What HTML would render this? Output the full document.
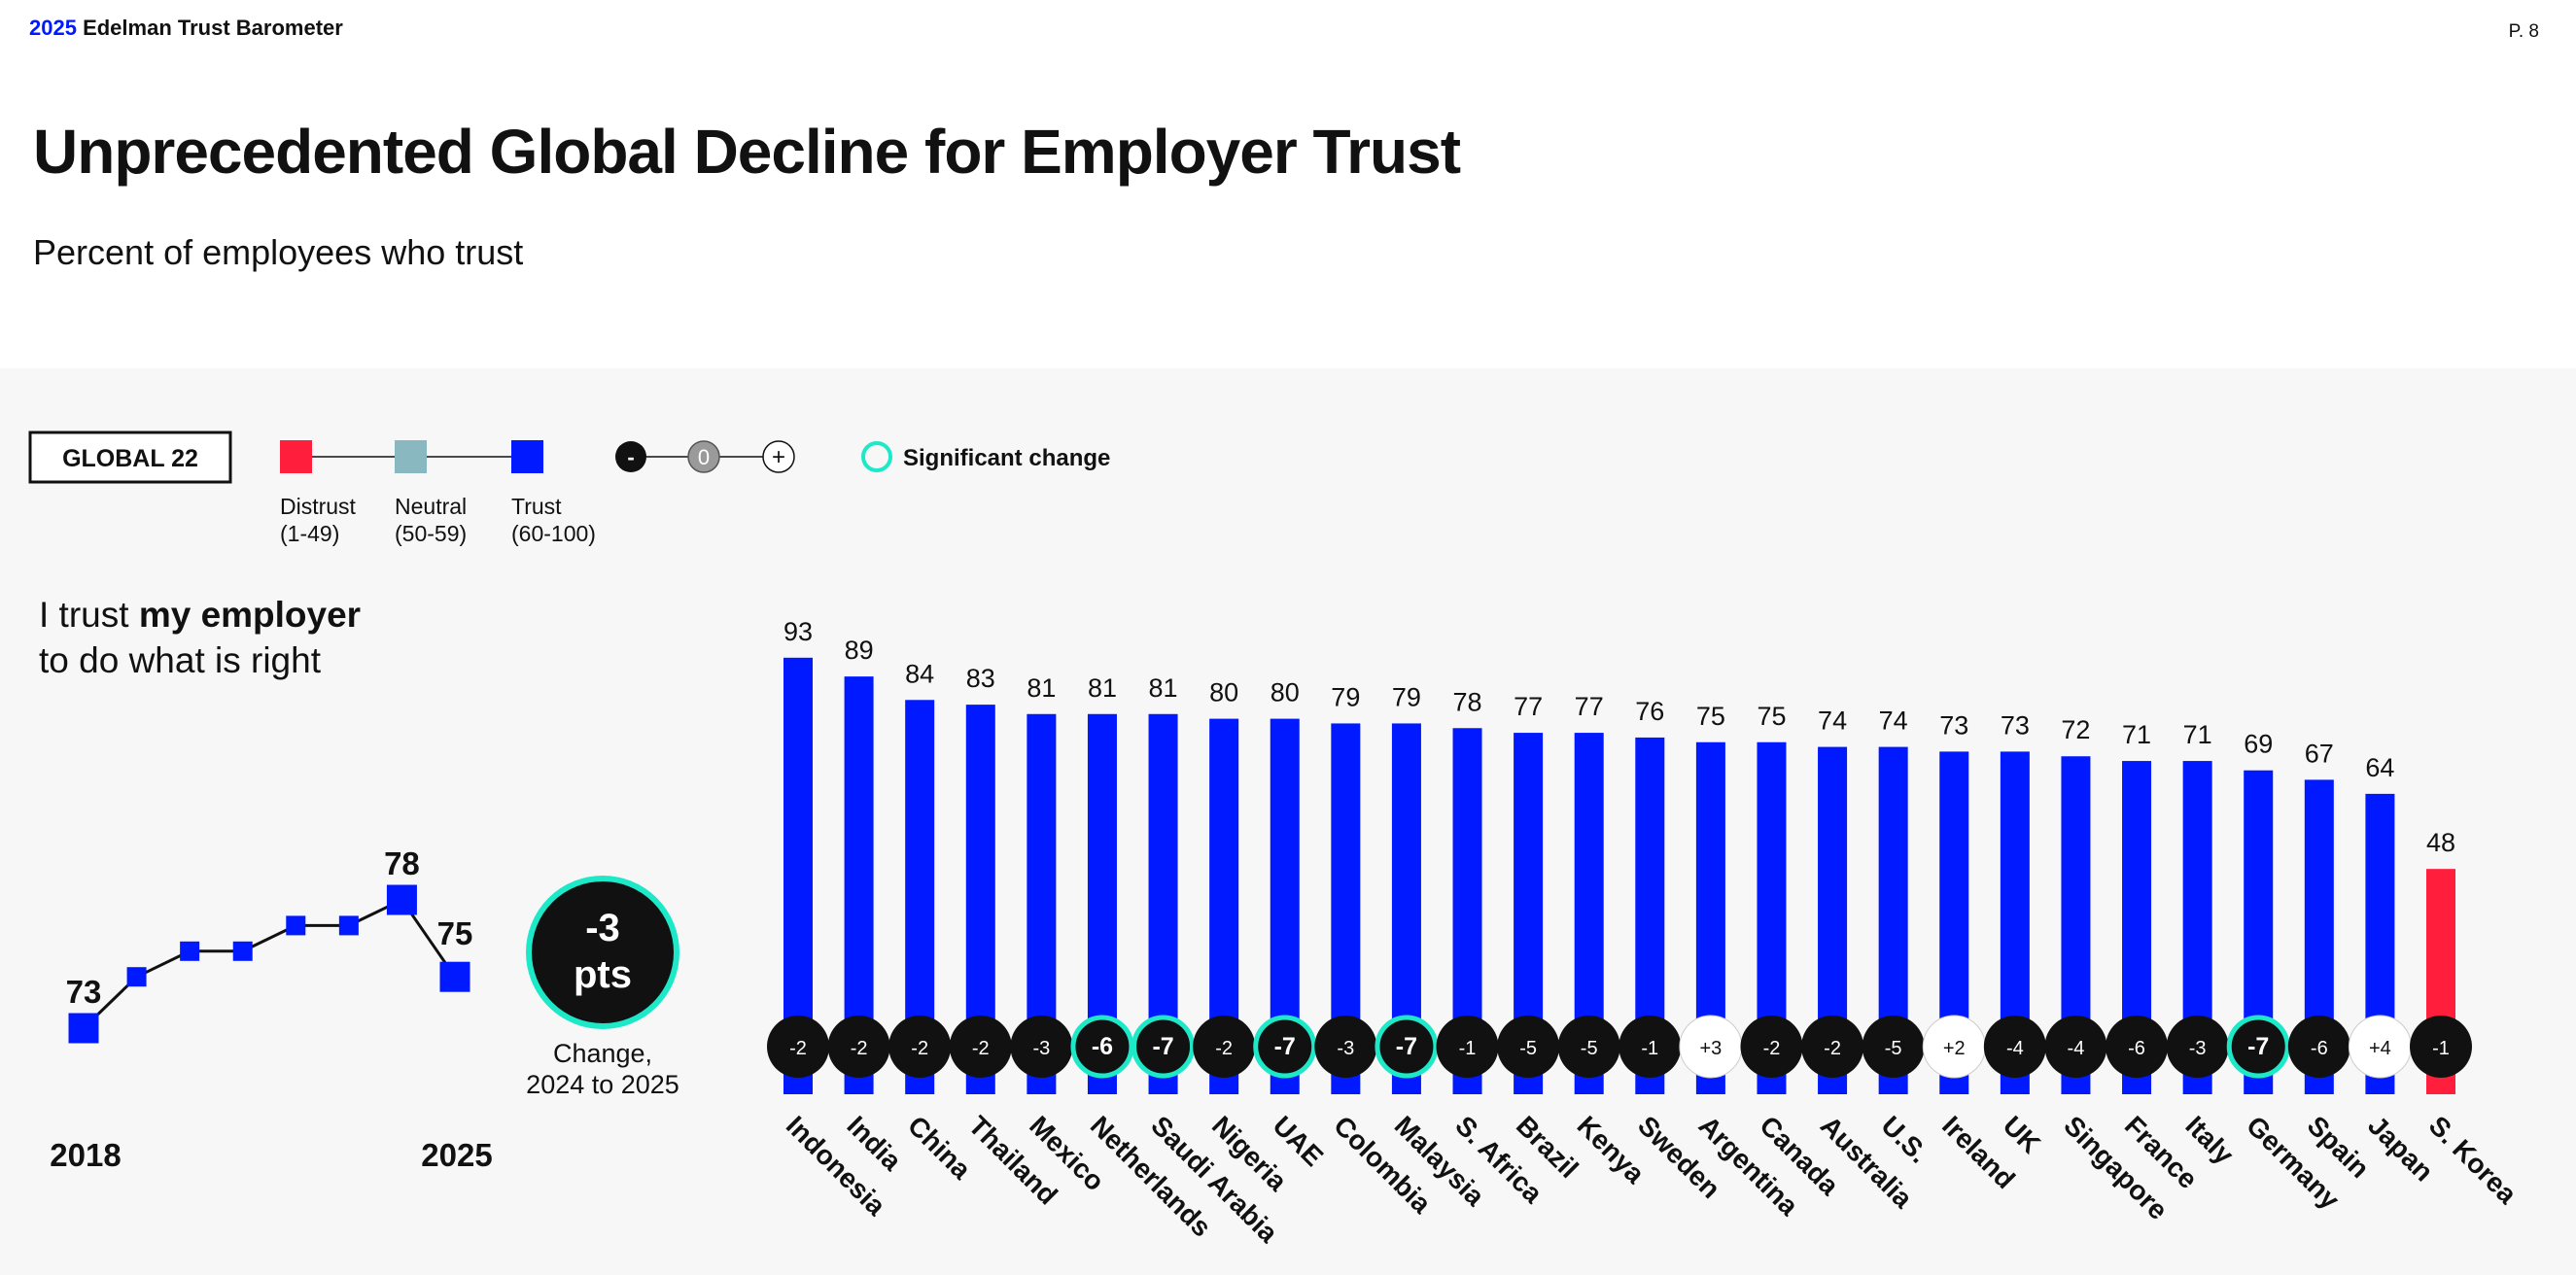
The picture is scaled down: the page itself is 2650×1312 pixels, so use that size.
<!DOCTYPE html>
<html><head><meta charset="utf-8"><style>
html,body{margin:0;padding:0;background:#fff;}
body{width:2650px;height:1312px;position:relative;overflow:hidden;font-family:"Liberation Sans",Arial,sans-serif;}
</style></head><body>
<svg width="2650" height="1312" xmlns="http://www.w3.org/2000/svg" style="position:absolute;left:0;top:0;font-family:'Liberation Sans',Arial,sans-serif">
<text x="30" y="36" font-size="22" font-weight="bold" fill="#111"><tspan fill="#0019ff">2025</tspan> Edelman Trust Barometer</text>
<text x="2612" y="38" font-size="19" text-anchor="end" fill="#111">P. 8</text>
<text x="34" y="178" font-size="64" font-weight="bold" fill="#111" letter-spacing="-1">Unprecedented Global Decline for Employer Trust</text>
<text x="34" y="272" font-size="36" fill="#111">Percent of employees who trust</text>
<rect x="0" y="379" width="2650" height="933" fill="#f7f7f7"/>
<g>
<rect x="31" y="445" width="206" height="51" fill="#fff" stroke="#111" stroke-width="3"/>
<text x="134" y="480" font-size="25" font-weight="bold" text-anchor="middle" fill="#111">GLOBAL 22</text>
<line x1="305" y1="470" x2="540" y2="470" stroke="#111" stroke-width="1.5"/>
<rect x="288" y="453" width="33" height="34" fill="#ff1e3c"/>
<rect x="406" y="453" width="33" height="34" fill="#8ab8c0"/>
<rect x="526" y="453" width="33" height="34" fill="#0019ff"/>
<g font-size="23" fill="#111">
<text x="288" y="529">Distrust</text><text x="288" y="557">(1-49)</text>
<text x="406" y="529">Neutral</text><text x="406" y="557">(50-59)</text>
<text x="526" y="529">Trust</text><text x="526" y="557">(60-100)</text>
</g>
<line x1="649" y1="470" x2="801" y2="470" stroke="#111" stroke-width="1.5"/>
<circle cx="649" cy="470" r="16" fill="#111"/>
<text x="649" y="478" font-size="22" font-weight="bold" fill="#fff" text-anchor="middle">-</text>
<circle cx="724" cy="470" r="16" fill="#9a9a9a" stroke="#555" stroke-width="1.5"/>
<text x="724" y="478" font-size="22" fill="#fff" text-anchor="middle">0</text>
<circle cx="801" cy="470" r="16" fill="#fff" stroke="#111" stroke-width="1.5"/>
<text x="801" y="478" font-size="24" fill="#111" text-anchor="middle">+</text>
<circle cx="902" cy="470" r="14" fill="none" stroke="#1de9c8" stroke-width="4"/>
<text x="929" y="479" font-size="24" font-weight="bold" fill="#111">Significant change</text>
</g>
<text x="40" y="645" font-size="37" fill="#111">I trust <tspan font-weight="bold">my employer</tspan></text>
<text x="40" y="692" font-size="37" fill="#111">to do what is right</text>
<g id="trend"></g>
<text x="88" y="1200" font-size="33" font-weight="bold" text-anchor="middle" fill="#111">2018</text>
<text x="470" y="1200" font-size="33" font-weight="bold" text-anchor="middle" fill="#111">2025</text>
<circle cx="620" cy="980" r="76" fill="#111" stroke="#1de9c8" stroke-width="6"/>
<text x="620" y="968" font-size="40" font-weight="bold" fill="#fff" text-anchor="middle">-3</text>
<text x="620" y="1016" font-size="40" font-weight="bold" fill="#fff" text-anchor="middle">pts</text>
<text x="620" y="1093" font-size="27" fill="#111" text-anchor="middle">Change,</text>
<text x="620" y="1125" font-size="27" fill="#111" text-anchor="middle">2024 to 2025</text>
<g id="bars"></g>
</svg>
<script>
const trendYears=[2018,2019,2020,2021,2022,2023,2024,2025];
const trendValues=[73,75,76,76,77,77,78,75];
const countries=["Indonesia","India","China","Thailand","Mexico","Netherlands","Saudi Arabia","Nigeria","UAE","Colombia","Malaysia","S. Africa","Brazil","Kenya","Sweden","Argentina","Canada","Australia","U.S.","Ireland","UK","Singapore","France","Italy","Germany","Spain","Japan","S. Korea"];
const trustValues=[93,89,84,83,81,81,81,80,80,79,79,78,77,77,76,75,75,74,74,73,73,72,71,71,69,67,64,48];
const changeValues=[-2,-2,-2,-2,-3,-6,-7,-2,-7,-3,-7,-1,-5,-5,-1,3,-2,-2,-5,2,-4,-4,-6,-3,-7,-6,4,-1];
const significant=[0,0,0,0,0,1,1,0,1,0,1,0,0,0,0,0,0,0,0,0,0,0,0,0,1,0,0,0];
const NS="http://www.w3.org/2000/svg";
function mk(t,a,p){const e=document.createElementNS(NS,t);for(const k in a)e.setAttribute(k,a[k]);p.appendChild(e);return e;}
// trend
const tx=i=>86+i*(468-86)/(trendYears.length-1);
const ty=v=>1058-(v-73)*26.4;
const tg=document.getElementById('trend');
let pts=trendValues.map((v,i)=>tx(i)+","+ty(v)).join(" ");
const pl=mk('polyline',{points:pts,fill:"none",stroke:"#111","stroke-width":3},tg);


trendValues.forEach((v,i)=>{
  const big=(i==0||i==trendValues.length-1||v===Math.max(...trendValues));
  const s=big?31:20;
  const r=mk('rect',{x:tx(i)-s/2,y:ty(v)-s/2,width:s,height:s,fill:"#0019ff"},tg);
  
  
  if(big){
    let lx=tx(i),ly=ty(v)-26;
    if(i==trendValues.length-1){ly=ty(v)-33;}
    const t=mk('text',{x:lx,y:ly,"font-size":33,"font-weight":"bold","text-anchor":"middle",fill:"#111"},tg);
    t.textContent=v;
    
    
  }
});
// bars
const bx=i=>821+i*(2511-821)/(countries.length-1);
const by=v=>1126-v*4.83;
const bg=document.getElementById('bars');
countries.forEach((c,i)=>{
  const v=trustValues[i],x=bx(i);
  const col=v<50?"#ff1e3c":(v<60?"#8ab8c0":"#0019ff");
  const r=mk('rect',{x:x-15,y:by(v),width:30,height:1126-by(v),fill:col},bg);
  
  
  const t=mk('text',{x:x,y:by(v)-18,"font-size":27,"text-anchor":"middle",fill:"#111"},bg);
  t.textContent=v;
  
  
  const d=changeValues[i],pos=d>0;
  const ci=mk('circle',{cx:x,cy:1077,r:significant[i]?30:32,fill:pos?"#fff":"#111",stroke:significant[i]?"#1de9c8":(pos?"#ccc":"none"),"stroke-width":significant[i]?5:1},bg);
  
  
  const ct=mk('text',{x:x,y:1085,"font-size":significant[i]?25:20,"font-weight":significant[i]?"bold":"normal","text-anchor":"middle",fill:pos?"#111":"#fff"},bg);
  ct.textContent=(pos?"+":"")+d;
  
  
  const ln=mk('text',{x:x-14,y:1160,"font-size":28,"font-weight":"bold",fill:"#111",transform:`rotate(45 ${x-14} 1160)`},bg);
  ln.textContent=c;
  
  
});
</script>
</body></html>
